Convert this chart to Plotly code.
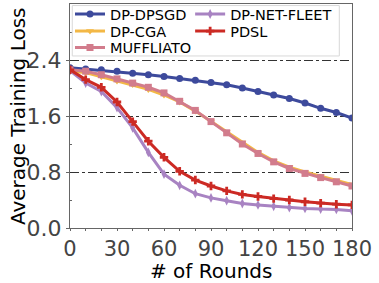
import plotly.graph_objects as go

rounds = list(range(0, 181, 10))

dp_dpsgd = [2.29, 2.27, 2.26, 2.24, 2.21, 2.19, 2.165, 2.135, 2.11, 2.08, 2.045, 2.0, 1.95, 1.90, 1.85, 1.785, 1.71, 1.65, 1.57]
dp_cga = [2.24, 2.22, 2.16, 2.10, 2.05, 1.98, 1.90, 1.80, 1.67, 1.52, 1.37, 1.22, 1.08, 0.96, 0.87, 0.80, 0.74, 0.68, 0.62]
muffliato = [2.26, 2.24, 2.19, 2.13, 2.07, 2.01, 1.93, 1.81, 1.68, 1.52, 1.36, 1.20, 1.065, 0.945, 0.85, 0.78, 0.72, 0.66, 0.60]
dp_net_fleet = [2.25, 2.07, 1.95, 1.72, 1.43, 1.08, 0.77, 0.61, 0.49, 0.43, 0.39, 0.35, 0.33, 0.31, 0.29, 0.28, 0.27, 0.265, 0.245]
pdsl = [2.26, 2.12, 2.01, 1.80, 1.52, 1.24, 1.01, 0.81, 0.685, 0.60, 0.53, 0.48, 0.45, 0.42, 0.40, 0.375, 0.355, 0.34, 0.33]

x_ticks = [0, 30, 60, 90, 120, 150, 180]
y_ticks = [0.0, 0.8, 1.6, 2.4]
y_tick_labels = ["0.0", "0.8", "1.6", "2.4"]
x_title = "# of Rounds"
y_title = "Average Training Loss"

series = [
    ("DP-DPSGD", dp_dpsgd, "#3d4a9c", "circle", "legend"),
    ("DP-CGA", dp_cga, "#f3b846", "triangle-down", "legend2"),
    ("MUFFLIATO", muffliato, "#d27c8c", "square", "legend3"),
    ("DP-NET-FLEET", dp_net_fleet, "#a883c2", "diamond-tall", "legend4"),
    ("PDSL", pdsl, "#cc2a24", "cross", "legend5"),
]

fig = go.Figure()
for name, vals, color, sym, leg in series:
    fig.add_trace(go.Scatter(
        x=rounds, y=vals, name=name, mode="lines+markers",
        line=dict(color=color, width=3),
        marker=dict(symbol=sym, size=7, color=color, line=dict(width=0)),
        legend=leg,
    ))

leg_common = dict(
    orientation="v", yanchor="middle", xanchor="left",
    bgcolor="rgba(0,0,0,0)", borderwidth=0,
    font=dict(size=14.5, color="black"),
    itemwidth=30, tracegroupgap=0,
)

fig.add_shape(
    type="rect", xref="paper", yref="paper",
    x0=0.008, x1=0.955, y0=0.768, y1=0.993,
    fillcolor="rgba(255,255,255,0.9)", line=dict(color="#d8d8d8", width=1),
    layer="above",
)

col1_x = 0.0
col2_x = 0.426
row_y = [0.955, 0.879, 0.805]

fig.update_layout(
    width=379, height=283,
    margin=dict(l=70, r=27, t=4, b=55, autoexpand=False),
    paper_bgcolor="white", plot_bgcolor="white",
    font=dict(family="DejaVu Sans", color="black"),
    showlegend=True,
    legend=dict(x=col1_x, y=row_y[0], **leg_common),
    legend2=dict(x=col1_x, y=row_y[1], **leg_common),
    legend3=dict(x=col1_x, y=row_y[2], **leg_common),
    legend4=dict(x=col2_x, y=row_y[0], **leg_common),
    legend5=dict(x=col2_x, y=row_y[1], **leg_common),
    xaxis=dict(
        range=[0, 180], tickvals=x_ticks, automargin=False,
        tickfont=dict(size=21, color="#444444"),
        showgrid=False, zeroline=False,
        showline=True, linecolor="#666666", linewidth=1, mirror=True,
        ticks="outside", ticklen=2, tickcolor="#666666",
        minor=dict(dtick=10, ticks="outside", ticklen=2, tickcolor="#666666"),
    ),
    yaxis=dict(
        range=[0, 3.2], tickvals=y_ticks, ticktext=y_tick_labels, automargin=False,
        tickfont=dict(size=22, color="#444444"),
        showgrid=True, gridcolor="#333333", gridwidth=1, griddash="dashdot",
        zeroline=False,
        showline=True, linecolor="#666666", linewidth=1, mirror=True,
        ticks="outside", ticklen=3, tickcolor="#666666",
        minor=dict(tickvals=[0.4, 1.2, 2.0, 2.8], ticks="inside", ticklen=2, tickcolor="#666666", showgrid=False),
    ),
    annotations=[
        dict(text=x_title, xref="paper", yref="paper", x=0.5, y=-0.192,
             xanchor="center", yanchor="middle", showarrow=False,
             font=dict(size=20, color="black")),
        dict(text=y_title, xref="paper", yref="paper", x=-0.184, y=0.5,
             xanchor="center", yanchor="middle", showarrow=False, textangle=-90,
             font=dict(size=20, color="black")),
    ],
)

fig.write_html("out.html", config={"displayModeBar": False},
               post_script="document.body.style.margin='0';")
